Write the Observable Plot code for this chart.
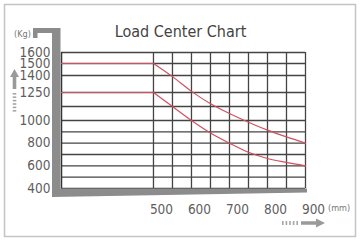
<!DOCTYPE html>
<html><head><meta charset="utf-8">
<script src="https://cdn.jsdelivr.net/npm/d3@7"></script>
<script src="https://cdn.jsdelivr.net/npm/@observablehq/plot@0.6"></script>
<style>html,body{margin:0;padding:0;background:#fff} svg{display:block}</style>
</head><body><div id="chart"></div>
<script>
const title = "Load Center Chart";
const loadCenters = [500, 550, 600, 650, 700, 750, 800, 850, 900];
const capacityHigh = [1500, 1390, 1260, 1130, 1050, 985, 915, 855, 800];
const capacityLow = [1250, 1100, 1000, 890, 800, 720, 665, 630, 600];
const flatStart = 258;
const yGridValues = [400, 500, 600, 700, 800, 900, 1000, 1100, 1250, 1400, 1500, 1600];
const yTickLabels = [400, 600, 800, 1000, 1250, 1400, 1500, 1600];
const xGridValues = [500, 550, 600, 650, 700, 750, 800, 850, 900];
const xTickLabels = [500, 600, 700, 800, 900];
const yUnit = "(Kg)";
const xUnit = "(mm)";

const curveOf = (vals) => loadCenters.map((x, i) => ({x, y: vals[i]}));
const flats = [capacityHigh[0], capacityLow[0]];

const font = "'Liberation Sans Narrow', 'DejaVu Sans Condensed', 'Arial Narrow', sans-serif";
const gridColor = "#444";
const red = "#d2505f";

const plot = Plot.plot({
  width: 361, height: 245,
  marginLeft: 61, marginRight: 56, marginTop: 52, marginBottom: 57,
  style: {fontFamily: font, background: "white"},
  x: {type: "linear", domain: [flatStart, 900], axis: null},
  y: {type: "linear", domain: [400, 1000, 1100, 1250, 1400, 1500, 1600],
      range: [188, 120, 106, 92, 75, 63, 52], axis: null},
  marks: [
    Plot.ruleY(yGridValues, {y: d => d, x1: () => flatStart, x2: () => 500, stroke: gridColor, strokeWidth: 1.3}),
    Plot.ruleY(yGridValues, {y: d => d, x1: () => 500, x2: () => 900, stroke: gridColor, strokeWidth: 1.3}),
    Plot.ruleX(xGridValues, {x: d => d, y1: () => 400, y2: () => 1600, stroke: gridColor, strokeWidth: 1.3}),
    Plot.ruleX([flatStart], {x: d => d, y1: () => 400, y2: () => 1600, stroke: "#333", strokeWidth: 1.5}),
    Plot.ruleY(flats, {y: d => d, x1: () => flatStart, x2: () => 500, stroke: red, strokeWidth: 1.2}),
    Plot.line(curveOf(capacityHigh), {x: "x", y: "y", stroke: red, strokeWidth: 1.2, curve: "monotone-x"}),
    Plot.line(curveOf(capacityLow), {x: "x", y: "y", stroke: red, strokeWidth: 1.2, curve: "monotone-x"}),
    Plot.text(yTickLabels, {x: () => flatStart, y: d => d, text: d => String(d), textAnchor: "end", dx: -11, fontSize: 13.5, fill: "#5e5e5e"}),
    Plot.text(xTickLabels, {x: d => d, y: () => 400, text: d => String(d), dy: 21, dx: 8, fontSize: 13.5, fill: "#5e5e5e"}),
    Plot.text([title], {frameAnchor: "top", dy: -27, dx: -3, fontSize: 16, fill: "#444"})
  ]
});

const svg = d3.select(plot);
const deco = svg.append("g").attr("id", "deco");
deco.append("rect").attr("x", 4.5).attr("y", 4.5).attr("width", 351).attr("height", 232)
  .attr("fill", "none").attr("stroke", "#c4c4c4").attr("stroke-width", 1.5);
deco.append("path").attr("d", "M33,28 H60.5 V188.5 H307 V192.5 L52,197 V33 H37.5 V38 H33 Z").attr("fill", "#8c8c8c");
deco.append("path").attr("d", "M14.5,69 L19,77 H16.3 V89 H12.7 V77 H10 Z").attr("fill", "#9a9a9a");
for (let i = 0; i < 6; i++) {
  deco.append("rect").attr("x", 12.7).attr("y", 93 + i * 3.4).attr("width", 3.6).attr("height", 1.6).attr("fill", "#a6a6a6");
}
for (let i = 0; i < 5; i++) {
  deco.append("rect").attr("x", 282 + i * 3.6).attr("y", 221).attr("width", 1.6).attr("height", 4).attr("fill", "#a6a6a6");
}
deco.append("path").attr("d", "M301,221.3 H316 V218.5 L325,223 L316,227.5 V224.7 H301 Z").attr("fill", "#9a9a9a");
deco.append("text").attr("x", 22.5).attr("y", 34).attr("dy", "0.35em").attr("text-anchor", "middle")
  .attr("font-size", 9).attr("fill", "#777").text(yUnit);
deco.append("text").attr("x", 328).attr("y", 208).attr("dy", "0.35em").attr("text-anchor", "start")
  .attr("font-size", 9).attr("fill", "#777").text(xUnit);

document.getElementById("chart").appendChild(plot);
</script>
</body></html>
